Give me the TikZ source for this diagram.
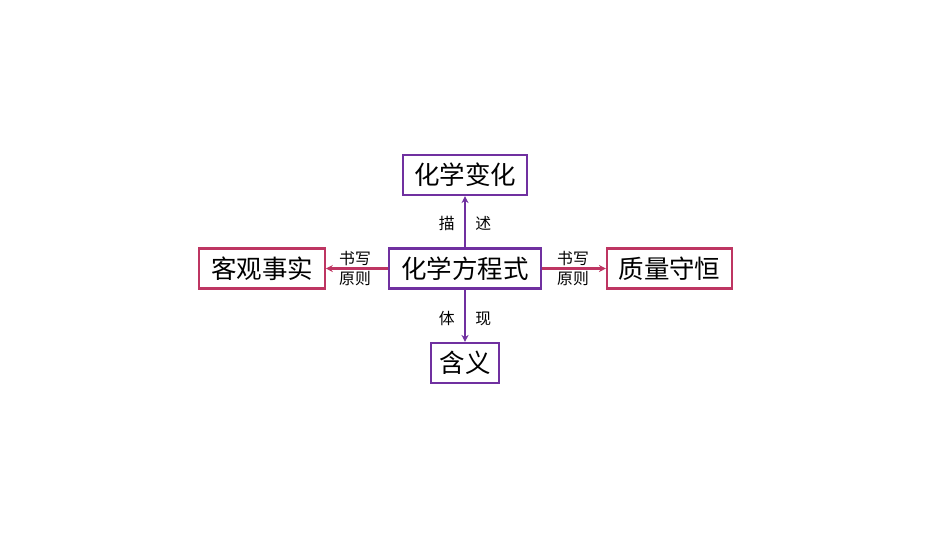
\documentclass[tikz,border=0pt]{standalone}
\usepackage{fontspec}
\setmainfont{Noto Sans CJK SC}
\usetikzlibrary{arrows.meta}
\definecolor{zise}{HTML}{7030A0}
\definecolor{meihong}{HTML}{BE3562}
\tikzset{
  kuang/.style={draw=zise, line width=1.2pt, font=\fontsize{14.5}{16}\selectfont, minimum height=0.8cm, inner sep=0pt},
  hongkuang/.style={kuang, draw=meihong},
  biao/.style={font=\fontsize{9}{11}\selectfont, align=center},
  jian/.style={line width=1.2pt, -{Stealth[length=4pt,width=4pt]}}
}
\begin{document}
\begin{tikzpicture}[x=0.02cm,y=-0.02cm]
  \useasboundingbox (0,0) rectangle (950,535);

  \node[kuang, minimum width=3.03cm] (fc) at (465,268.5) {化学方程式};
  \node[kuang, minimum width=2.47cm] (bh) at (465,175) {化学变化};
  \node[kuang, minimum width=1.36cm] (hy) at (465,363) {含义};
  \node[hongkuang, minimum width=2.51cm] (ks) at (262,268.5) {客观事实};
  \node[hongkuang, minimum width=2.5cm] (zl) at (669.5,268.5) {质量守恒};

  \draw[jian, zise] (fc) -- (bh);
  \draw[jian, zise] (fc) -- (hy);
  \draw[jian, meihong] (fc) -- (ks);
  \draw[jian, meihong] (fc) -- (zl);

  \node[biao] (ms) at (465,223) {描\hspace{1.3em}述};
  \node[biao] (tx) at (465,319) {体\hspace{1.3em}现};
  \node[biao] (yz) at (355,268.5) {书写\\原则};
  \node[biao] (yy) at (573,268.5) {书写\\原则};
\end{tikzpicture}
\end{document}
